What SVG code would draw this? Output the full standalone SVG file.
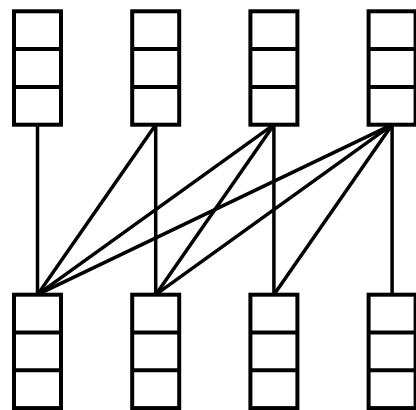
<svg xmlns="http://www.w3.org/2000/svg" width="416" height="410" viewBox="0 0 416 410">
<style>
.box{fill:#fff;stroke:#000;stroke-width:4}
.div{stroke:#000;stroke-width:4}
.edge{stroke:#000;stroke-width:3.5;fill:none}
</style>
<defs>
<g id="stack">
<rect class="box" x="0" y="0" width="47" height="113.4"/>
<line class="div" x1="0" y1="37.8" x2="47" y2="37.8"/>
<line class="div" x1="0" y1="75.6" x2="47" y2="75.6"/>
</g>
</defs>
<g id="connectors">
<line class="edge" x1="37.5" y1="124.7" x2="37.5" y2="294.7"/>
<line class="edge" x1="155.7" y1="124.7" x2="37.5" y2="294.7"/>
<line class="edge" x1="155.7" y1="124.7" x2="155.7" y2="294.7"/>
<line class="edge" x1="273.9" y1="124.7" x2="37.5" y2="294.7"/>
<line class="edge" x1="273.9" y1="124.7" x2="155.7" y2="294.7"/>
<line class="edge" x1="273.9" y1="124.7" x2="273.9" y2="294.7"/>
<line class="edge" x1="392.1" y1="124.7" x2="37.5" y2="294.7"/>
<line class="edge" x1="392.1" y1="124.7" x2="155.7" y2="294.7"/>
<line class="edge" x1="392.1" y1="124.7" x2="273.9" y2="294.7"/>
<line class="edge" x1="392.1" y1="124.7" x2="392.1" y2="294.7"/>
</g>
<g id="top1"><use href="#stack" x="14" y="11.3"/></g>
<g id="top2"><use href="#stack" x="132.2" y="11.3"/></g>
<g id="top3"><use href="#stack" x="250.4" y="11.3"/></g>
<g id="top4"><use href="#stack" x="368.6" y="11.3"/></g>
<g id="bottom1"><use href="#stack" x="14" y="294.7"/></g>
<g id="bottom2"><use href="#stack" x="132.2" y="294.7"/></g>
<g id="bottom3"><use href="#stack" x="250.4" y="294.7"/></g>
<g id="bottom4"><use href="#stack" x="368.6" y="294.7"/></g>
</svg>
